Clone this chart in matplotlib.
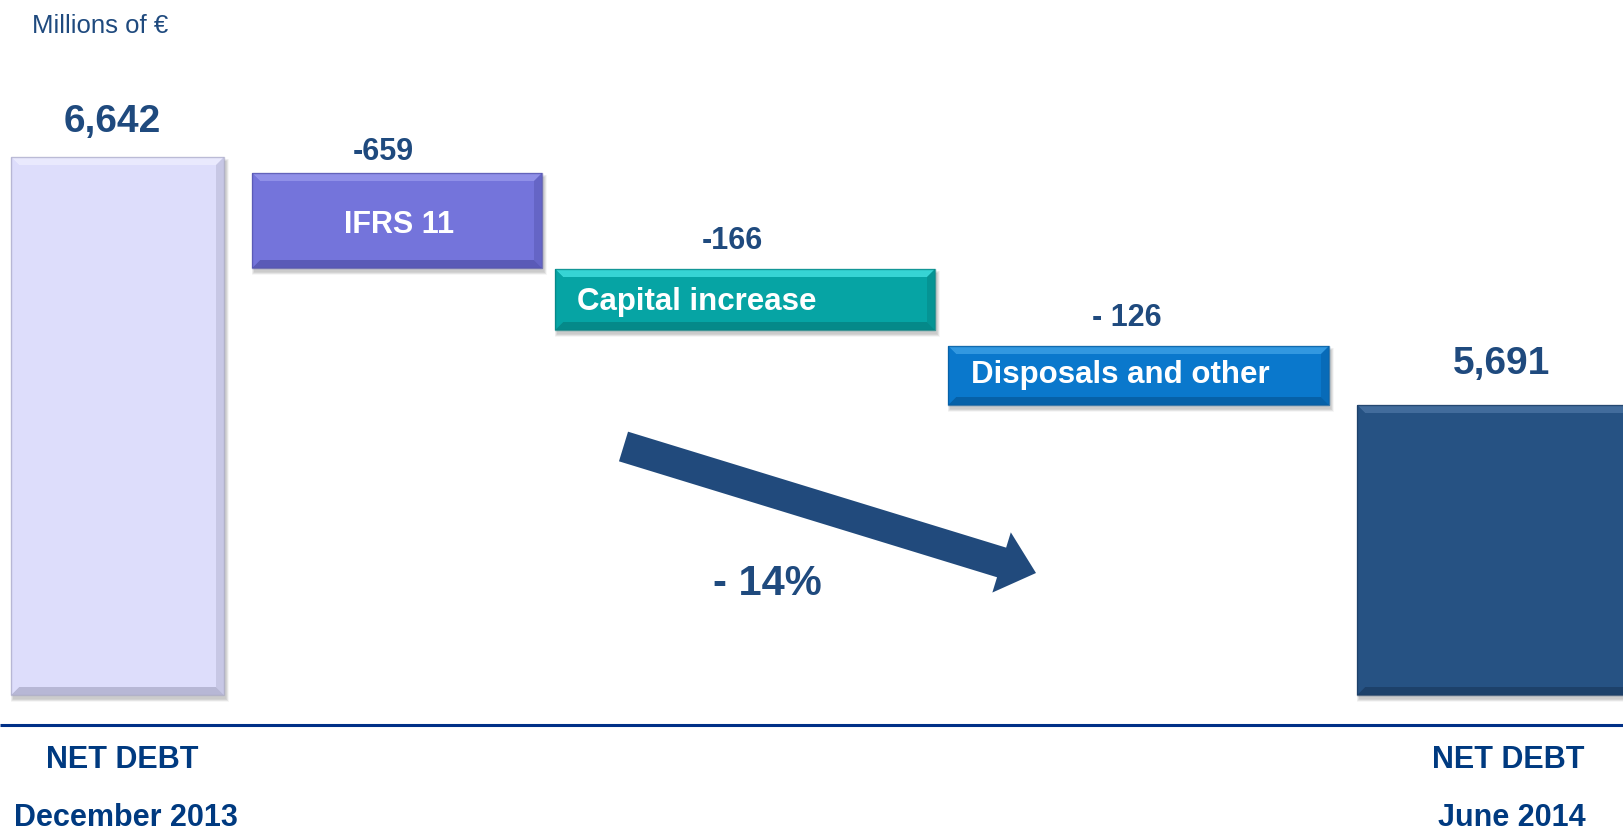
"""
Net debt bridge, December 2013 -> June 2014 (schematic waterfall)
"""

import matplotlib
matplotlib.use('Agg')
import matplotlib.pyplot as plt
from matplotlib.patches import Polygon, Rectangle, FancyArrow

plt.rcParams['font.family'] = ['Liberation Sans', 'DejaVu Sans']

# Data
steps = ['NET DEBT December 2013', 'IFRS 11', 'Capital increase', 'Disposals and other', 'NET DEBT June 2014']
values = [6642, -659, -166, -126, 5691]
value_labels = ['6,642', '-659', '-166', '- 126', '5,691']
inbar_labels = ['', 'IFRS 11', 'Capital increase', 'Disposals and other', '']
change_label = '- 14%'
unit_label = 'Millions of €'

# Layout of the schematic (drawing units = pixels, y downwards); bars are not to scale
bar_left = [11, 252, 555, 948, 1357]
bar_right = [224, 542, 935, 1329, 1650]
bar_top = [157, 173, 269, 346, 405]
bar_bottom = [695, 268, 330, 405, 695]
fills = ['#DDDDFB', '#7474DB', '#06A4A4', '#0A78CC', '#265283']
light = ['#E9E9FD', '#9090E8', '#36D4D4', '#3298E0', '#426C9C']
dark = ['#A8A8C6', '#5050A8', '#057E7E', '#05589A', '#1A3A60']

NAVY = '#1F4A7E'
DEEP = '#003A80'

fig = plt.figure(figsize=(16.23, 8.32), dpi=100)
fig.patch.set_facecolor('white')
ax = fig.add_axes([0, 0, 1, 1])
ax.set_xlim(0, 1623)
ax.set_ylim(832, 0)
ax.axis('off')


def bevel_bar(x0, x1, y0, y1, fc, lc, dc, b=8):
    # soft drop shadow
    for k in range(6):
        ax.add_patch(Rectangle((x0 + 2 - k * 0.5, y0 + 4 - k * 0.5), x1 - x0 + k, y1 - y0 + k,
                               fc='black', ec='none', alpha=0.035, zorder=1))
    ax.add_patch(Rectangle((x0, y0), x1 - x0, y1 - y0, fc=fc, ec='none', zorder=2))
    top = [(x0, y0), (x1, y0), (x1 - b, y0 + b), (x0 + b, y0 + b)]
    bot = [(x0, y1), (x1, y1), (x1 - b, y1 - b), (x0 + b, y1 - b)]
    left = [(x0, y0), (x0 + b, y0 + b), (x0 + b, y1 - b), (x0, y1)]
    right = [(x1, y0), (x1 - b, y0 + b), (x1 - b, y1 - b), (x1, y1)]
    ax.add_patch(Polygon(top, closed=True, fc=lc, ec='none', zorder=3))
    ax.add_patch(Polygon(bot, closed=True, fc=dc, ec='none', alpha=0.7, zorder=3))
    ax.add_patch(Polygon(left, closed=True, fc=fc, ec='none', zorder=3))
    ax.add_patch(Polygon(right, closed=True, fc=dc, ec='none', alpha=0.4, zorder=3))
    ax.add_patch(Rectangle((x0, y0), x1 - x0, y1 - y0, fc='none', ec=dc, lw=1.0, alpha=0.7, zorder=4))


for i in range(len(steps)):
    bevel_bar(bar_left[i], bar_right[i], bar_top[i], bar_bottom[i], fills[i], light[i], dark[i])

# value labels above bars
value_pos = [(112, 122), (383, 152), (732, 241), (1127, 318), (1502, 364)]
value_size = [28, 22, 22, 22, 28]
for (x, y), txt, fs in zip(value_pos, value_labels, value_size):
    ax.text(x, y, txt, ha='center', va='center', fontsize=fs, fontweight='bold', color=NAVY, zorder=5)

# labels inside the step bars
ax.text(399, 225, inbar_labels[1], ha='center', va='center', fontsize=22, fontweight='bold', color='white', zorder=5)
ax.text(577, 302, inbar_labels[2], ha='left', va='center', fontsize=22.5, fontweight='bold', color='white', zorder=5)
ax.text(971, 375, inbar_labels[3], ha='left', va='center', fontsize=22.5, fontweight='bold', color='white', zorder=5)

# unit
ax.text(32, 26, unit_label, ha='left', va='center', fontsize=18.5, color=NAVY)

# baseline
ax.plot([0, 1623], [725, 725], color='#003087', lw=2.2, solid_capstyle='butt')

# category labels under the baseline
ax.text(122, 760, 'NET DEBT', ha='center', va='center', fontsize=22, fontweight='bold', color=DEEP)
ax.text(126, 818, 'December 2013', ha='center', va='center', fontsize=22, fontweight='bold', color=DEEP)
ax.text(1508, 760, 'NET DEBT', ha='center', va='center', fontsize=22, fontweight='bold', color=DEEP)
ax.text(1512, 818, 'June 2014', ha='center', va='center', fontsize=22, fontweight='bold', color=DEEP)

# downward trend arrow and change
ax.add_patch(FancyArrow(623.5, 446.5, 412.5, 126.5, width=31, head_width=63, head_length=36,
                        length_includes_head=True, fc='#214A7C', ec='none', zorder=5))
ax.text(767, 584, change_label, ha='center', va='center', fontsize=30, fontweight='bold', color=NAVY)

plt.savefig('out.png', dpi=100, facecolor='white')
plt.close()
